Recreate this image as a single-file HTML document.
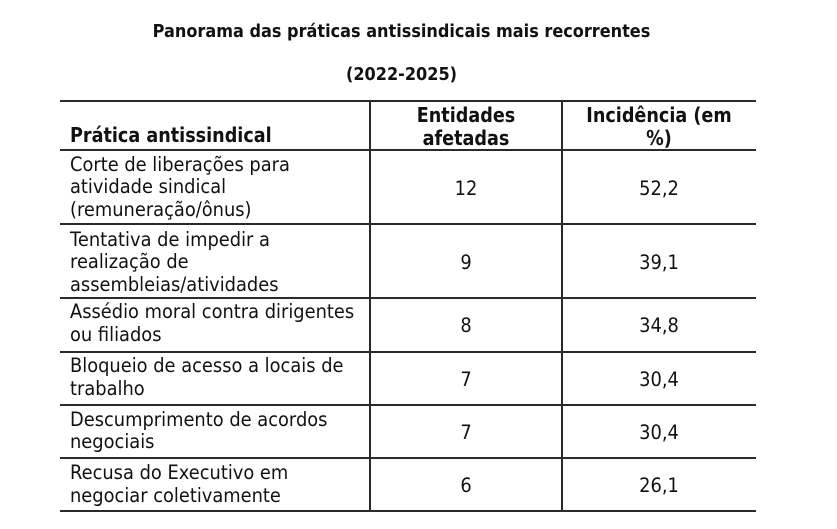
<!DOCTYPE html>
<html>
<head>
<meta charset="utf-8">
<style>
  html, body { margin:0; padding:0; background:#fff; }
  body { width:837px; height:529px; position:relative; overflow:hidden;
         font-family:"DejaVu Sans","Liberation Sans",sans-serif; color:#111; }
  .t { position:absolute; white-space:nowrap; }
  .title { font-weight:bold; font-size:17.5px; line-height:22px; left:0; width:803px; text-align:center;
           transform:scaleX(0.92); transform-origin:401.5px 0; }
  .hl { position:absolute; left:60px; width:696px; height:2px; background:#2a2a2a; }
  .vl { position:absolute; top:100px; height:412px; width:2px; background:#2a2a2a; }
  .h { font-weight:bold; font-size:20px; line-height:23px; transform:scaleX(0.88); }
  .b { font-size:19.3px; line-height:22.7px; left:70px; transform:scaleX(0.925); transform-origin:0 0; }
  .n { font-size:19.3px; line-height:22.7px; text-align:center; transform:scaleX(0.925); }
  .c2 { left:370px; width:192px; transform-origin:96px 0; }
  .c3 { left:562px; width:194px; transform-origin:97px 0; }
</style>
</head>
<body>
  <div class="t title" style="top:20.6px;">Panorama das práticas antissindicais mais recorrentes</div>
  <div class="t title" style="top:64px;">(2022-2025)</div>

  <div class="hl" style="top:100px;"></div>
  <div class="hl" style="top:149px;"></div>
  <div class="hl" style="top:223px;"></div>
  <div class="hl" style="top:297px;"></div>
  <div class="hl" style="top:351px;"></div>
  <div class="hl" style="top:404px;"></div>
  <div class="hl" style="top:457px;"></div>
  <div class="hl" style="top:510px;"></div>
  <div class="vl" style="left:369px;"></div>
  <div class="vl" style="left:561px;"></div>

  <div class="t h" style="left:70px; top:123.6px; transform-origin:0 0;">Prática antissindical</div>
  <div class="t h c2" style="top:103.6px; text-align:center;">Entidades<br>afetadas</div>
  <div class="t h c3" style="top:103.6px; text-align:center;">Incidência (em<br>%)</div>

  <div class="t b" style="top:153.7px;">Corte de liberações para<br>atividade sindical<br>(remuneração/ônus)</div>
  <div class="t b" style="top:228.7px;">Tentativa de impedir a<br>realização de<br>assembleias/atividades</div>
  <div class="t b" style="top:301.3px;">Assédio moral contra dirigentes<br>ou filiados</div>
  <div class="t b" style="top:355.3px;">Bloqueio de acesso a locais de<br>trabalho</div>
  <div class="t b" style="top:408.7px;">Descumprimento de acordos<br>negociais</div>
  <div class="t b" style="top:462px;">Recusa do Executivo em<br>negociar coletivamente</div>

  <div class="t n c2" style="top:178px;">12</div>
  <div class="t n c3" style="top:178px;">52,2</div>
  <div class="t n c2" style="top:252px;">9</div>
  <div class="t n c3" style="top:252px;">39,1</div>
  <div class="t n c2" style="top:314.7px;">8</div>
  <div class="t n c3" style="top:314.7px;">34,8</div>
  <div class="t n c2" style="top:368.7px;">7</div>
  <div class="t n c3" style="top:368.7px;">30,4</div>
  <div class="t n c2" style="top:422px;">7</div>
  <div class="t n c3" style="top:422px;">30,4</div>
  <div class="t n c2" style="top:474.7px;">6</div>
  <div class="t n c3" style="top:474.7px;">26,1</div>
</body>
</html>
